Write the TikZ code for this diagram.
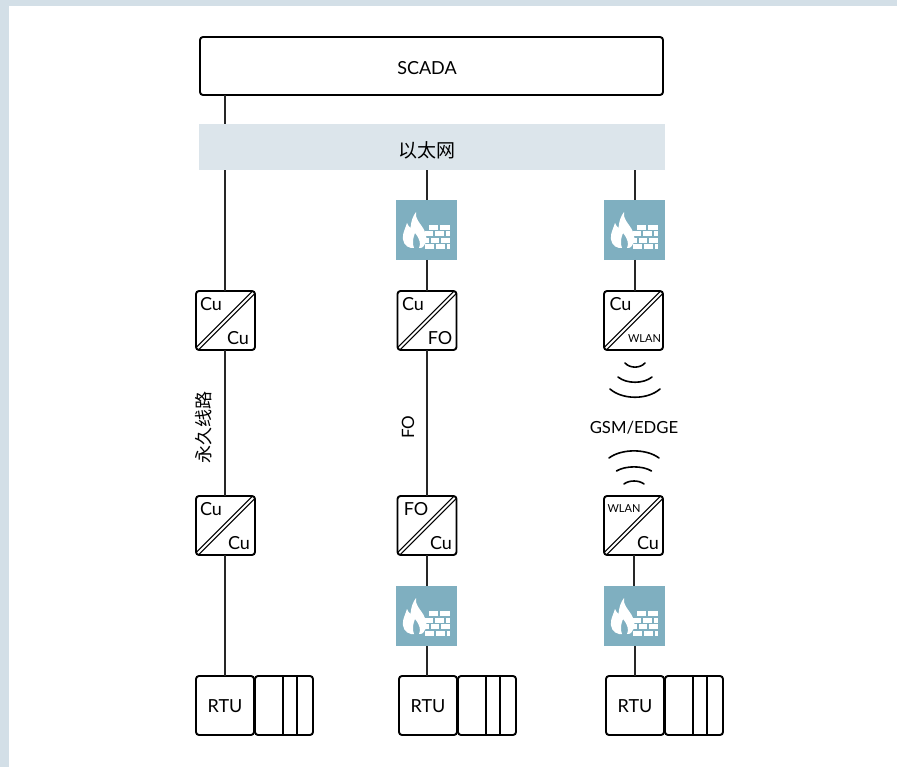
\documentclass[tikz,border=0pt]{standalone}
\usepackage{fontspec}
\setmainfont{Lato}
\newfontfamily\cjk{Noto Sans CJK SC}
\usetikzlibrary{positioning,calc}
\definecolor{framegray}{HTML}{D3DFE7}
\definecolor{bandgray}{HTML}{DCE5EB}
\definecolor{wallblue}{HTML}{7FAFC0}

\begin{document}
\begin{tikzpicture}[
    x=1pt, y=-1pt,
    node distance=31pt and 1pt,
    box/.style={rectangle, draw=black, line width=1.9pt, rounded corners=3pt,
        fill=white, inner sep=0pt, outer sep=0pt, align=center, text height=13pt, text depth=0pt,
        font=\fontsize{18}{20}\selectfont},
    conv/.style={box, minimum width=59pt, minimum height=59pt,
        path picture={\draw[line width=1.2pt, double=white, double distance=1.9pt]
            (path picture bounding box.south west) -- (path picture bounding box.north east);}},
    cornertext/.style={font=\fontsize{18}{20}\selectfont, inner sep=0pt},
    smalltext/.style={font=\fontsize{11}{12}\selectfont, inner sep=0pt},
    rtu/.style={box, minimum width=58pt, minimum height=59pt},
    rack/.style={box, minimum width=58pt, minimum height=59pt,
        path picture={
            \draw[line width=1.5pt] ([xshift=28pt]path picture bounding box.north west) -- ([xshift=28pt]path picture bounding box.south west);
            \draw[line width=1.5pt] ([xshift=42pt]path picture bounding box.north west) -- ([xshift=42pt]path picture bounding box.south west);}},
    fwall/.style={rectangle, fill=wallblue, minimum width=61pt, minimum height=60pt, inner sep=0pt, outer sep=0pt,
        path picture={
            \pgftransformshift{\pgfpoint{-30.5pt}{30pt}}
            % flame
            \fill[white, even odd rule] (15,48) .. controls (9,47) and (6,41) .. (7,35)
                .. controls (8,30) and (10,27) .. (11,23) .. controls (12,25) and (13,27) .. (14.5,28)
                .. controls (15,21) and (17,16) .. (20,12) .. controls (19,19) and (24,23) .. (27,28)
                .. controls (31,34) and (32,42) .. (27,47) .. controls (26,48) and (24,48) .. (23,48)
                .. controls (25,44) and (24,39) .. (19,33) .. controls (17,38) and (16,43) .. (18,48) -- cycle;
            % bricks
            \foreach \rowy/\bricks in {25/{33/42,43.5/54}, 31.5/{29/37,38.5/48,49.5/54}, 38/{29/33,34.5/43,44.5/54}, 44.5/{29/38,39.5/49,50.5/54}}
                \foreach \xa/\xb in \bricks
                    \fill[white] (\xa,\rowy) rectangle (\xb,\rowy+5);
            }},
    wire/.style={draw=black!85, line width=2pt},
    wave/.style={draw=black, line width=1.6pt, line cap=round}
]

% Top level
\fill[framegray] (0,0) rectangle (897,6);
\fill[framegray] (0,0) rectangle (9,767);
\path[use as bounding box] (0,0) rectangle (897,767);
\node[box, minimum width=463pt, minimum height=58pt, text height=18pt] (scada) at (431.5,66) {\hspace*{-9pt}SCADA};

% Left column
\node[conv] (cuA) at (225.5,320.5) {};
\node[conv, below=146pt of cuA] (cuB) {};
\node[rtu, below=121pt of cuB, xshift=-0.5pt] (rtuA) {RTU};
\node[rack, right=of rtuA] (rackA) {};

% Middle column
\node[fwall] (fwC) at (426.5,230) {};
\node[conv, below=of fwC, xshift=0.5pt] (foA) {};
\node[conv, below=146pt of foA] (foB) {};
\node[fwall, below=31pt of foB, xshift=-0.5pt] (fwD) {};
\node[rtu, below=30pt of fwD, xshift=1.5pt] (rtuB) {RTU};
\node[rack, right=of rtuB] (rackB) {};

% Right column
\node[fwall] (fwE) at (634.5,230) {};
\node[conv, below=of fwE, xshift=-1pt] (wlA) {};
\node[conv, below=146pt of wlA] (wlB) {};
\node[fwall, below=31pt of wlB, xshift=1pt] (fwF) {};
\node[rtu, below=30pt of fwF, xshift=0.5pt] (rtuC) {RTU};
\node[rack, right=of rtuC] (rackC) {};

% Connections
\draw[wire] ([xshift=-1pt]cuA.north) -- ([xshift=-1pt]cuA.north |- scada.south);
\node[fill=bandgray, minimum width=466pt, minimum height=46pt, inner sep=0pt, text height=23pt, text depth=2pt, font=\cjk\fontsize{19}{20}\selectfont] (band) at (432,147) {\hspace*{-10pt}以太网};
\draw[wire] ([xshift=-1pt]cuA.south) -- ([xshift=-1pt]cuB.north);
\draw[wire] ([xshift=-1pt]cuB.south) -- ([xshift=-1pt]cuB.south |- rtuA.north);
\draw[wire] (fwC.north) -- (fwC.north |- band.south);
\draw[wire] (fwC.south) -- (fwC.south |- foA.north);
\draw[wire] (foA.south) -- (foB.north);
\draw[wire] (foB.south) -- (foB.south |- fwD.north);
\draw[wire] (fwD.south) -- (fwD.south |- rtuB.north);
\draw[wire] (fwE.north) -- (fwE.north |- band.south);
\draw[wire] (fwE.south) -- (fwE.south |- wlA.north);
\draw[wire] (wlB.south) -- (wlB.south |- fwF.north);
\draw[wire] (fwF.south) -- (fwF.south |- rtuC.north);

% Converter labels
\node[cornertext] (cuAa) at ([shift={(-14.5,-16)}]cuA.center) {Cu};
\node[cornertext] (cuAb) at ([shift={(12.5,17.5)}]cuA.center) {Cu};
\node[cornertext] (cuBa) at ([shift={(-14.5,-16)}]cuB.center) {Cu};
\node[cornertext] (cuBb) at ([shift={(13.5,17.5)}]cuB.center) {Cu};
\node[cornertext] (foAa) at ([shift={(-14,-16)}]foA.center) {Cu};
\node[cornertext] (foAb) at ([shift={(13,17.5)}]foA.center) {FO};
\node[cornertext] (foBa) at ([shift={(-11,-16)}]foB.center) {FO};
\node[cornertext] (foBb) at ([shift={(14,17.5)}]foB.center) {Cu};
\node[cornertext] (wlAa) at ([shift={(-13,-16)}]wlA.center) {Cu};
\node[smalltext] (wlAb) at ([shift={(11,18)}]wlA.center) {WLAN};
\node[smalltext] (wlBa) at ([shift={(-9.5,-17)}]wlB.center) {WLAN};
\node[cornertext] (wlBb) at ([shift={(14.5,17.5)}]wlB.center) {Cu};

% Link labels
\node[rotate=90, font=\cjk\fontsize{18}{20}\selectfont] (lineLabel) at (204,427) {永久线路};
\node[rotate=90, font=\fontsize{17}{20}\selectfont] (foLabel) at (408,427) {FO};
\node[font=\fontsize{16.7}{20}\selectfont] (gsmLabel) at (634,428) {GSM/EDGE};

% Radio waves
\foreach \halfw/\ya/\yb in {10/363/368.5, 17/377/384, 25/389/400}
    \draw[wave] (635-\halfw,\ya) .. controls (635-\halfw/2,\yb) and (635+\halfw/2,\yb) .. (635+\halfw,\ya);
\foreach \halfw/\ya/\yb in {25/458/448.5, 17.5/471/465.5, 10/484/480}
    \draw[wave] (634-\halfw,\ya) .. controls (634-\halfw/2,\yb) and (634+\halfw/2,\yb) .. (634+\halfw,\ya);

\end{tikzpicture}
\end{document}
